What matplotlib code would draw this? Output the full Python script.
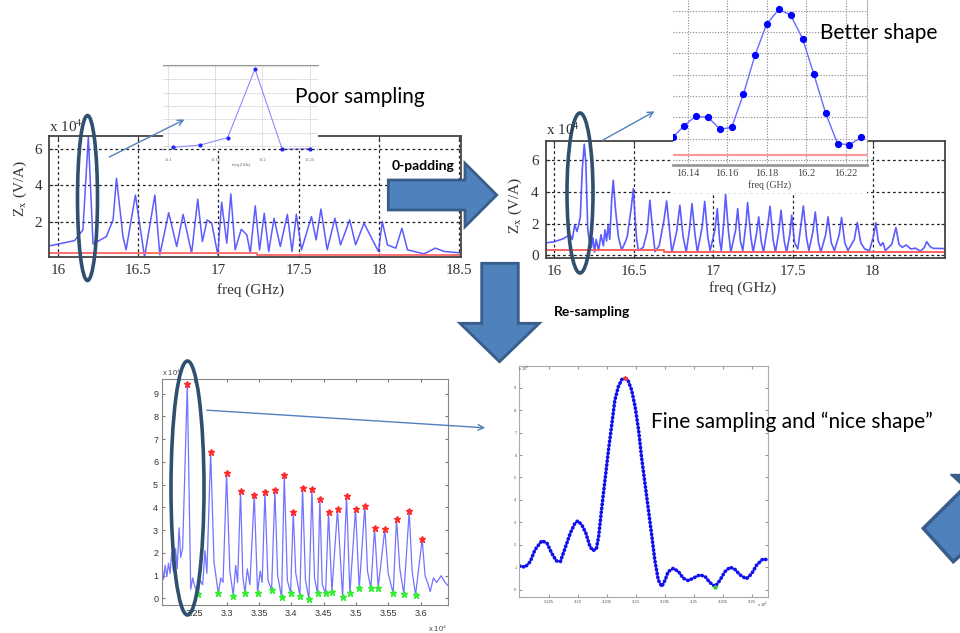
import matplotlib
matplotlib.use("Agg")
import matplotlib.pyplot as plt
from matplotlib import patches

plt.rcParams['font.family'] = ['Liberation Serif', 'DejaVu Serif']
plt.rcParams['mathtext.fontset'] = 'stix'

W, H = 960, 633

# ---------------- data ----------------
# top-left: coarse spectrum (freq GHz, amplitude x1e4)
tl_freq = [15.945, 16.104, 16.156, 16.19, 16.219, 16.302, 16.344, 16.365, 16.406, 16.425,
           16.483, 16.54, 16.604, 16.635, 16.69, 16.74, 16.78, 16.833, 16.871, 16.90,
           16.93, 16.958, 16.996, 17.02, 17.052, 17.077, 17.104, 17.142, 17.177, 17.198,
           17.229, 17.256, 17.285, 17.313, 17.346, 17.385, 17.429, 17.458, 17.485, 17.517,
           17.579, 17.608, 17.638, 17.677, 17.725, 17.76, 17.817, 17.854, 17.906, 17.996,
           18.02, 18.052, 18.104, 18.142, 18.177, 18.28, 18.35, 18.406, 18.52]
tl_amp = [0.71, 1.0, 1.58, 6.65, 0.82, 1.22, 2.13, 4.39, 1.2, 0.5,
          3.48, 0.1, 3.48, 0.23, 2.52, 0.68, 2.43, 0.32, 3.25, 0.95,
          2.13, 1.95, 0.23, 3.09, 0.86, 3.54, 0.5, 1.62, 1.31, 0.32,
          2.89, 0.5, 2.49, 0.41, 2.22, 0.68, 2.43, 0.41, 2.43, 0.5,
          2.31, 1.04, 2.72, 0.5, 2.22, 0.77, 2.13, 0.77, 1.95, 0.41,
          2.04, 0.77, 0.59, 1.67, 0.5, 0.28, 0.59, 0.41, 0.32]
tl_red_freq = [15.945, 17.24, 17.24, 18.52]
tl_red_amp = [0.32, 0.32, 0.24, 0.24]
tl_xticks = [16, 16.5, 17, 17.5, 18, 18.5]
tl_xlabels = ['16', '16.5', '17', '17.5', '18', '18.5']
tl_yticks = [2, 4, 6]

# top-left inset (poor sampling)
tli_freq = [16.1047, 16.134, 16.163, 16.192, 16.221, 16.25]
tli_amp = [0.9, 1.075, 1.625, 6.775, 0.75, 0.8]
tli_xticks = [16.1, 16.15, 16.2, 16.25]
tli_xlabels = ['16.1', '16.15', '16.2', '16.25']

# top-right: zero-padded spectrum
tr_freq = [15.954, 16.00, 16.03, 16.06, 16.10, 16.115, 16.13, 16.145, 16.165, 16.178,
           16.19, 16.20, 16.212, 16.222, 16.235, 16.245, 16.255, 16.265, 16.28, 16.295,
           16.31, 16.32, 16.33, 16.34, 16.35, 16.362, 16.372, 16.385, 16.404, 16.425,
           16.45, 16.46, 16.485, 16.498, 16.51, 16.519, 16.53, 16.56, 16.585, 16.602,
           16.615, 16.634, 16.66, 16.69, 16.707, 16.725, 16.74, 16.77, 16.79, 16.81,
           16.83, 16.85, 16.866, 16.885, 16.90, 16.93, 16.946, 16.965, 16.98, 17.01,
           17.025, 17.04, 17.05, 17.065, 17.077, 17.095, 17.11, 17.14, 17.153, 17.17,
           17.185, 17.205, 17.215, 17.235, 17.25, 17.27, 17.285, 17.30, 17.315, 17.34,
           17.356, 17.375, 17.39, 17.41, 17.425, 17.445, 17.46, 17.48, 17.492, 17.51,
           17.53, 17.55, 17.565, 17.585, 17.60, 17.625, 17.64, 17.66, 17.675, 17.705,
           17.72, 17.74, 17.76, 17.79, 17.805, 17.825, 17.845, 17.885, 17.904, 17.925,
           17.95, 17.98, 18.005, 18.02, 18.035, 18.05, 18.065, 18.08, 18.12, 18.146,
           18.165, 18.185, 18.21, 18.24, 18.27, 18.30, 18.325, 18.339, 18.36, 18.38,
           18.46]
tr_amp = [0.79, 0.85, 0.95, 1.05, 1.3, 1.0, 1.9, 1.5, 2.4, 5.5,
          7.0, 5.8, 1.6, 0.9, 0.5, 1.1, 0.2, 1.0, 0.3, 1.3,
          0.6, 1.6, 0.9, 1.9, 1.0, 3.5, 4.72, 3.0, 1.17, 0.33,
          0.9, 1.2, 3.0, 4.2, 2.2, 1.0, 0.3, 0.5, 1.5, 3.47,
          2.0, 0.23, 0.6, 2.2, 3.42, 1.6, 0.2, 1.5, 3.15, 1.2,
          0.2, 1.6, 3.26, 1.3, 0.2, 1.8, 3.4, 1.2, 0.3, 1.6,
          2.94, 0.9, 0.3, 2.0, 3.84, 1.5, 0.2, 1.6, 2.94, 0.9,
          0.3, 2.0, 3.32, 1.2, 0.2, 1.3, 2.42, 0.9, 0.2, 1.8,
          3.09, 1.0, 0.2, 1.4, 2.84, 0.9, 0.2, 1.3, 2.53, 0.8,
          0.4, 1.9, 3.11, 1.1, 0.3, 1.5, 2.73, 0.8, 0.2, 1.3,
          2.42, 0.8, 0.3, 1.3, 2.38, 0.8, 0.3, 1.0, 2.07, 0.8,
          0.4, 0.3, 1.2, 2.05, 0.9, 0.6, 0.8, 0.3, 0.7, 1.75,
          0.7, 0.5, 0.65, 0.4, 0.45, 0.25, 0.5, 0.86, 0.55, 0.44,
          0.42]
tr_red_freq = [15.948, 16.69, 16.69, 18.454]
tr_red_amp = [0.32, 0.32, 0.24, 0.24]
tr_xticks = [16, 16.5, 17, 17.5, 18]
tr_xlabels = ['16', '16.5', '17', '17.5', '18']
tr_yticks = [0, 2, 4, 6]

# top-right inset (better shape)
tri_freq = [16.1327, 16.1383, 16.1440, 16.1504, 16.1564, 16.1623, 16.1682, 16.1741, 16.1800,
            16.1862, 16.1921, 16.1982, 16.2039, 16.2099, 16.2159, 16.2218, 16.2279]
tri_amp = [1.09, 1.61, 2.05, 2.0, 1.45, 1.53, 3.08, 4.91, 6.375,
           7.06, 6.8, 5.69, 4.02, 2.19, 0.77, 0.72, 1.06]
tri_red = 0.23
tri_xticks = [16.14, 16.16, 16.18, 16.2, 16.22]
tri_xlabels = ['16.14', '16.16', '16.18', '16.2', '16.22']

# bottom-left: re-sampled spectrum (x1e4)
bl_x = [3.2005, 3.2025, 3.205, 3.2075, 3.210, 3.2125, 3.215, 3.2175, 3.221, 3.2235,
        3.2265, 3.229, 3.232, 3.2392, 3.2445, 3.2475, 3.250, 3.2562, 3.259, 3.263,
        3.2665, 3.2695, 3.2753, 3.2805, 3.2871, 3.291, 3.2945, 3.300, 3.305, 3.3103,
        3.314, 3.317, 3.3216, 3.325, 3.3284, 3.332, 3.336, 3.3428, 3.3479, 3.352,
        3.355, 3.3593, 3.364, 3.3696, 3.3747, 3.379, 3.3851, 3.3892, 3.394, 3.399,
        3.4031, 3.407, 3.4134, 3.4175, 3.422, 3.4273, 3.432, 3.436, 3.4407, 3.4443,
        3.448, 3.4531, 3.4577, 3.4629, 3.4716, 3.4794, 3.4856, 3.4907, 3.4995, 3.5052,
        3.5139, 3.518, 3.5232, 3.5289, 3.5345, 3.5448, 3.550, 3.5577, 3.5629, 3.568,
        3.5742, 3.5825, 3.587, 3.5923, 3.6026, 3.607, 3.612, 3.615, 3.620, 3.625,
        3.632, 3.638, 3.643]
bl_y = [1.3, 0.85, 1.45, 0.95, 1.55, 1.1, 2.0, 1.2, 2.2, 1.3,
        3.1, 1.8, 2.2, 9.41, 0.4, 0.9, 0.6, 0.18, 0.8, 0.6,
        2.1, 1.1, 6.45, 1.6, 0.22, 0.9, 0.7, 5.5, 1.2, 0.12,
        1.45, 0.7, 4.72, 1.0, 0.22, 1.3, 0.6, 4.55, 0.25, 1.2,
        0.7, 4.66, 0.8, 0.37, 4.77, 1.0, 0.04, 5.43, 0.8, 0.22,
        3.81, 1.1, 0.12, 4.87, 0.8, -0.01, 4.82, 0.9, 0.22, 4.35,
        0.6, 0.22, 3.78, 0.29, 3.94, 0.07, 4.49, 0.22, 3.94, 0.44,
        4.08, 1.2, 0.44, 3.09, 0.47, 3.05, 1.1, 0.22, 3.49, 1.3,
        0.18, 3.83, 1.2, 0.15, 2.6, 1.0, 0.6, 0.3, 0.9, 0.7,
        1.0, 0.7, 0.55]
bl_peak_x = [3.2392, 3.2753, 3.30, 3.3216, 3.3428, 3.3593, 3.3747, 3.3892, 3.4031, 3.4175,
             3.432, 3.4443, 3.4577, 3.4716, 3.4856, 3.4995, 3.5139, 3.5289, 3.5448, 3.5629,
             3.5825, 3.6026]
bl_peak_y = [9.41, 6.45, 5.5, 4.72, 4.55, 4.66, 4.77, 5.43, 3.81, 4.87,
             4.82, 4.35, 3.78, 3.94, 4.49, 3.94, 4.08, 3.09, 3.05, 3.49,
             3.83, 2.6]
bl_min_x = [3.2562, 3.2871, 3.3103, 3.3284, 3.3479, 3.3696, 3.3851, 3.399, 3.4134, 3.4273,
            3.4407, 3.4531, 3.4629, 3.4794, 3.4907, 3.5052, 3.5232, 3.5345, 3.5577, 3.5742,
            3.5923]
bl_min_y = [0.18, 0.22, 0.12, 0.22, 0.25, 0.37, 0.04, 0.22, 0.12, -0.01,
            0.22, 0.22, 0.29, 0.07, 0.22, 0.44, 0.44, 0.47, 0.22, 0.18,
            0.15]
bl_xticks = [3.25, 3.3, 3.35, 3.4, 3.45, 3.5, 3.55, 3.6]
bl_xlabels = ['3.25', '3.3', '3.35', '3.4', '3.45', '3.5', '3.55', '3.6']
bl_yticks = list(range(10))

# bottom-right: fine sampling of first peak (x1e4)
br_x = [3.2199, 3.2209, 3.2218, 3.2226, 3.2238, 3.2247, 3.2255, 3.2263, 3.2270, 3.2278,
        3.2287, 3.2295, 3.2300, 3.2307, 3.2314, 3.2321, 3.2326, 3.2332, 3.2336, 3.2341,
        3.2347, 3.2353, 3.2359, 3.2364, 3.2370, 3.2376, 3.2382, 3.2387, 3.2393, 3.2399,
        3.2405, 3.2410, 3.2416, 3.2422, 3.2428, 3.2433, 3.2439, 3.2445, 3.2451, 3.2456,
        3.2465, 3.2474, 3.2482, 3.2491, 3.2499, 3.2511, 3.2520, 3.2528, 3.2537, 3.2545,
        3.2554, 3.2563, 3.2571, 3.2580, 3.2591, 3.2600, 3.2609, 3.2620, 3.2629]
br_y = [1.07, 1.01, 1.26, 1.78, 2.19, 2.07, 1.63, 1.29, 1.26, 1.85,
        2.52, 2.96, 3.07, 2.89, 2.52, 1.93, 1.75, 1.81, 2.37, 3.56,
        4.89, 6.22, 7.41, 8.44, 9.04, 9.36, 9.41, 9.30, 8.89, 8.15,
        7.11, 5.93, 4.74, 3.56, 2.37, 1.33, 0.44, 0.15, 0.44, 0.81,
        0.96, 0.81, 0.52, 0.41, 0.52, 0.67, 0.59, 0.33, 0.15, 0.41,
        0.81, 1.01, 0.92, 0.67, 0.49, 0.71, 1.11, 1.38, 1.33]
br_xticks = [3.225, 3.23, 3.235, 3.24, 3.245, 3.25, 3.255, 3.26]
br_xlabels = ['3.225', '3.23', '3.235', '3.24', '3.245', '3.25', '3.255', '3.26']
br_yticks = list(range(10))

# ---------------- figure ----------------
fig = plt.figure(figsize=(9.6, 6.33), dpi=100)
fig.patch.set_facecolor('white')


def R(x0, y0, x1, y1):
    return [x0 / W, 1 - y1 / H, (x1 - x0) / W, (y1 - y0) / H]


GRID = dict(color='#222222', ls=(0, (2.2, 2.2)), lw=0.9)
SLIDE = ['Lato', 'DejaVu Sans']
CURVE = '#4a4aff'


def style_top(ax, xt, xl, yt):
    ax.set_xticks(xt)
    ax.set_xticklabels(xl)
    ax.set_yticks(yt)
    ax.grid(True, **GRID)
    ax.tick_params(direction='in', length=3, top=True, right=True,
                   labelsize=11, pad=5, colors='#333333', labelcolor='#333333')
    for s in ax.spines.values():
        s.set_color('#444444')
        s.set_linewidth(1.3)


# top-left main
ax1 = fig.add_axes(R(49, 136, 461, 257), zorder=0)
ax1.plot(tl_freq, tl_amp, color=CURVE, lw=1.1, alpha=0.9)
ax1.plot(tl_red_freq, tl_red_amp, color='#ff7070', lw=1.4)
ax1.set_xlim(15.945, 18.51)
ax1.set_ylim(0.11, 6.69)
style_top(ax1, tl_xticks, tl_xlabels, tl_yticks)
ax1.set_xlabel('freq (GHz)', fontsize=11, color='#333333')
ax1.xaxis.label.set_va('center')
ax1.xaxis.set_label_coords(0.49, -(290 - 257) / 121)
ax1.set_ylabel(r'Z$_\mathrm{x}$ (V/A)', fontsize=11, color='#333333')
ax1.yaxis.label.set_va('center')
ax1.yaxis.set_label_coords(-(49 - 20) / 412, 0.57)

# top-left inset
ax1i = fig.add_axes(R(163, 65, 318, 151), zorder=2)
ax1i.plot(tli_freq, tli_amp, color='#8c8cff', lw=0.8, marker='o', ms=2,
          mfc='#2222ff', mec='#2222ff')
ax1i.axhline(0.8, **GRID)
ax1i.set_xlim(16.0943, 16.259)
ax1i.set_ylim(0.625, 7.075)
ax1i.set_xticks(tli_xticks)
ax1i.set_xticklabels(tli_xlabels)
ax1i.set_yticks(range(1, 8))
ax1i.set_yticklabels([])
ax1i.grid(True, color='#bbbbbb', ls=(0, (1, 1)), lw=0.6)
ax1i.tick_params(length=0, labelsize=3.2, pad=5, labelcolor='#555555')
for k, s in ax1i.spines.items():
    s.set_visible(k == 'top')
    s.set_color('#999999')
ax1i.set_xlabel('freq (GHz)', fontsize=3, color='#555555', labelpad=1)

# top-right main
ax2 = fig.add_axes(R(545.7, 141, 945, 257.7), zorder=0)
ax2.plot(tr_freq, tr_amp, color=CURVE, lw=1.2, alpha=0.9, solid_joinstyle='round')
ax2.plot(tr_red_freq, tr_red_amp, color='#ff6060', lw=1.4)
ax2.set_xlim(15.948, 18.454)
ax2.set_ylim(-0.15, 7.2)
style_top(ax2, tr_xticks, tr_xlabels, tr_yticks)
ax2.set_xlabel('freq (GHz)', fontsize=11, color='#333333')
ax2.xaxis.label.set_va('center')
ax2.xaxis.set_label_coords((743 - 545.7) / 399.3, -(288 - 257.7) / 116.7)
ax2.set_ylabel(r'Z$_\mathrm{x}$ (V/A)', fontsize=11, color='#333333')
ax2.yaxis.label.set_va('center')
ax2.yaxis.set_label_coords(-(545.7 - 515) / 399.3, 0.45)

# white backdrop for the top-right inset (covers its labels area)
bg = fig.add_axes(R(673, 0, 867, 193), zorder=1)
bg.set_axis_off()
bg.add_patch(patches.Rectangle((0, 0), 1, 1, transform=bg.transAxes,
                               fc='white', ec='none'))

ax2i = fig.add_axes(R(673, 0, 867, 165), zorder=2)
ax2i.plot(tri_freq, tri_amp, color='#6a6aff', lw=1.0, marker='o', ms=4.2,
          mfc='#0000ff', mec='#0000ff')
ax2i.axhline(tri_red, color='#ff9a9a', lw=1.6)
ax2i.set_xlim(16.1326, 16.2308)
ax2i.set_ylim(-0.23, 7.5)
ax2i.set_xticks(tri_xticks)
ax2i.set_xticklabels(tri_xlabels)
ax2i.set_yticks(range(0, 8))
ax2i.set_yticklabels([])
ax2i.grid(True, color='#888888', ls=(0, (1, 1.5)), lw=0.8)
ax2i.tick_params(length=0, labelsize=7.5, pad=3, labelcolor='#444444')
for k, s in ax2i.spines.items():
    s.set_visible(k in ('bottom', 'right'))
ax2i.spines['bottom'].set_color('#999999')
ax2i.spines['bottom'].set_linewidth(2)
ax2i.spines['right'].set_color('#aaaaaa')
ax2i.spines['right'].set_linestyle((0, (1, 1.5)))
ax2i.set_xlabel('freq (GHz)', fontsize=7, color='#444444', labelpad=1)

# bottom-left
ax3 = fig.add_axes(R(162.3, 379.3, 448.3, 605), zorder=0)
ax3.plot(bl_x, bl_y, color='#5a5aff', lw=0.9, alpha=0.85)
ax3.plot(bl_peak_x, bl_peak_y, ls='none', marker='*', ms=5, color='#ff2a2a')
ax3.plot(bl_min_x, bl_min_y, ls='none', marker='*', ms=4.5, color='#33ee33')
ax3.set_xlim(3.2005, 3.643)
ax3.set_ylim(-0.29, 9.63)
ax3.set_xticks(bl_xticks)
ax3.set_xticklabels(bl_xlabels)
ax3.set_yticks(bl_yticks)
ax3.tick_params(direction='in', length=2.5, top=True, right=True, labelsize=6.5,
                pad=3, colors='#777777', labelcolor='#333333', labelfontfamily='Liberation Sans')
for s in ax3.spines.values():
    s.set_color('#888888')
    s.set_linewidth(0.8)

# bottom-right
ax4 = fig.add_axes(R(519.3, 366, 768.3, 597.3), zorder=0)
ax4.plot(br_x, br_y, color='#1010ee', lw=2.6, ls=(0, (0.15, 0.95)),
         dash_capstyle='round')
ax4.plot([3.2382], [9.41], ls='none', marker='*', ms=3, color='#ff3333')
ax4.plot([3.2537], [0.15], ls='none', marker='*', ms=3, color='#33cc33')
ax4.set_xlim(3.2199, 3.2629)
ax4.set_ylim(-0.33, 9.96)
ax4.set_xticks(br_xticks)
ax4.set_xticklabels(br_xlabels)
ax4.set_yticks(br_yticks)
ax4.tick_params(direction='in', length=2, top=True, right=True, labelsize=3,
                pad=2, colors='#999999', labelcolor='#555555', labelfontfamily='Liberation Sans')
for s in ax4.spines.values():
    s.set_color('#aaaaaa')
    s.set_linewidth(0.8)

# ---------------- overlay (pixel coordinates) ----------------
ov = fig.add_axes([0, 0, 1, 1], zorder=10)
ov.set_xlim(0, W)
ov.set_ylim(H, 0)
ov.set_axis_off()
ov.patch.set_alpha(0)

# axis multipliers
ov.text(49, 127, r'x 10$^4$', fontsize=11, color='#333333', ha='left', va='center')
ov.text(546, 130, r'x 10$^4$', fontsize=11, color='#333333', ha='left', va='center')
ov.text(162, 372, r'x 10$^4$', fontsize=5.5, color='#444444', ha='left', va='center',
        family='Liberation Sans')
ov.text(428, 628, r'x 10$^4$', fontsize=5.5, color='#444444', ha='left', va='center',
        family='Liberation Sans')
ov.text(518, 369, r'x 10$^4$', fontsize=3, color='#555555', ha='left', va='center',
        family='Liberation Sans')
ov.text(757, 605, r'x 10$^4$', fontsize=3, color='#555555', ha='left', va='center',
        family='Liberation Sans')

# big block arrows
FC, EC = '#4F81BD', '#385D8A'
ov.add_patch(patches.Polygon([(388.3, 180), (465, 180), (465, 163.3), (496.7, 195),
                              (465, 226.7), (465, 210), (388.3, 210)],
                             closed=True, fc=FC, ec=EC, lw=2))
ov.add_patch(patches.Polygon([(481.7, 263.3), (518.3, 263.3), (518.3, 323.3), (539.3, 323.3),
                              (499.5, 361.7), (460, 323.3), (481.7, 323.3)],
                             closed=True, fc=FC, ec=EC, lw=2))
ov.add_patch(patches.Polygon([(923.3, 528.3), (963, 489), (963, 553), (953.3, 561.7)],
                             closed=True, fc=FC, ec=EC, lw=2.5, clip_on=False))
ov.add_patch(patches.Polygon([(950, 474.3), (963, 474.3), (963, 486)],
                             closed=True, fc=EC, ec=EC, lw=1, clip_on=False))

# ellipses
EL = '#30506f'
for cx, cy, w, h in [(87.5, 198, 20, 165), (580, 193, 26, 160), (187.5, 488, 33, 254)]:
    ov.add_patch(patches.Ellipse((cx, cy), w, h, fc='none', ec=EL, lw=2.6))

# thin pointer arrows
AP = dict(arrowstyle='->', color='#4F81BD', lw=1.0, mutation_scale=10)
ov.annotate('', xy=(187, 118.3), xytext=(106.7, 158.3), arrowprops=AP)
ov.annotate('', xy=(657, 110), xytext=(600, 141.7), arrowprops=AP)
ov.annotate('', xy=(488, 428), xytext=(204, 410), arrowprops=AP)

# slide texts
ov.text(295, 97, 'Poor sampling', fontsize=15, family=SLIDE, color='black',
        ha='left', va='center')
ov.text(820, 33, 'Better shape', fontsize=15, family=SLIDE, color='black',
        ha='left', va='center')
ov.text(651, 422, 'Fine sampling and \u201cnice shape\u201d', fontsize=15, family=SLIDE,
        color='black', ha='left', va='center')
ov.text(391.5, 166, '0-padding', fontsize=10, family=SLIDE, weight='bold',
        color='black', ha='left', va='center')
ov.text(554, 312.5, 'Re-sampling', fontsize=10, family=SLIDE, weight='bold',
        color='black', ha='left', va='center')

fig.savefig('out.png', dpi=100)
